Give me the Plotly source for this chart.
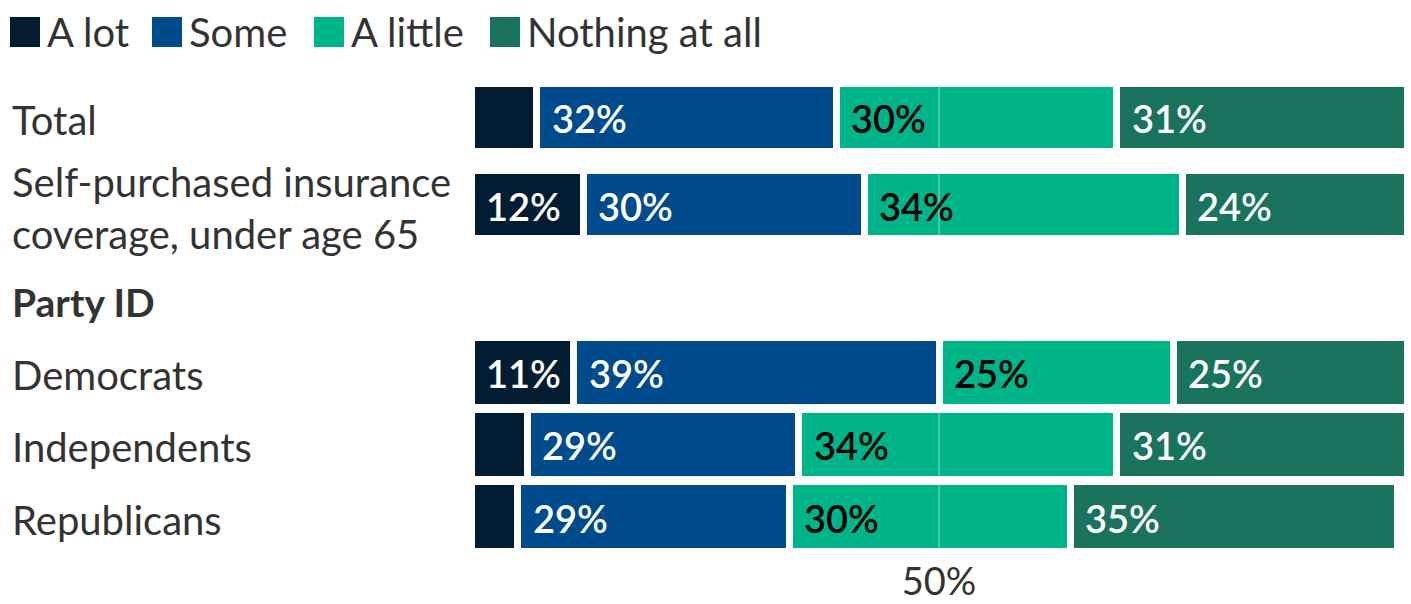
import plotly.graph_objects as go

# ---- data -------------------------------------------------------------
series_names = ["A lot", "Some", "A little", "Nothing at all"]
series_colors = ["#021d31", "#004b8c", "#00b48a", "#1a735d"]
label_colors = ["#ffffff", "#ffffff", "#000000", "#ffffff"]

overall_rows = ["Total", "Self-purchased insurance<br>coverage, under age 65"]
overall_a_lot = [7, 12]
overall_some = [32, 30]
overall_a_little = [30, 34]
overall_nothing = [31, 24]

party_header = "Party ID"
party_rows = ["Democrats", "Independents", "Republicans"]
party_a_lot = [11, 6, 5]
party_some = [39, 29, 29]
party_a_little = [25, 34, 30]
party_nothing = [25, 31, 35]

x_ticks = [50]
x_tick_labels = ["50%"]

# ---- layout constants (pixels) -----------------------------------------
W, H = 1411, 604
ML, MR = 471, 4
PLOT_W = W - ML - MR
FONT = "Lato"
TEXT_GRAY = "#333333"
GAP = 7  # white gap between segments


def px_x(px):
    return (px - ML) / PLOT_W


def px_y(py):
    return (H - py) / H


fig = go.Figure()

groups = [
    ("y", "x", overall_rows,
     [overall_a_lot, overall_some, overall_a_little, overall_nothing], 0.78),
    ("y2", "x2", party_rows,
     [party_a_lot, party_some, party_a_little, party_nothing], 0.97),
]

annotations = []
shapes = []
for yref, xref, rows, values, bar_w in groups:
    for name, color, tcolor, vals in zip(series_names, series_colors,
                                         label_colors, values):
        fig.add_trace(go.Bar(
            orientation="h", x=vals, y=rows, name=name,
            marker=dict(color=color, line=dict(color="white", width=GAP)),
            width=bar_w, xaxis=xref, yaxis=yref, showlegend=False,
            hoverinfo="x+y+name",
        ))
    # value labels, left-aligned inside each segment
    for i, row in enumerate(rows):
        base = 0
        for s, vals in enumerate(values):
            v = vals[i]
            if v >= 10:
                annotations.append(dict(
                    x=base, y=row, xref=xref, yref=yref,
                    text=f"{v}%", showarrow=False, xanchor="left",
                    xshift=13, yshift=-1,
                    font=dict(family=FONT, size=38, color=label_colors[s],
                              weight=600),
                ))
            base += v
    # row labels on the left
    for row in rows:
        annotations.append(dict(
            x=px_x(10), y=row, xref="paper", yref=yref, text=row,
            showarrow=False, xanchor="left", align="left",
            yshift=-3,
            font=dict(family=FONT, size=40, color=TEXT_GRAY),
        ))
    # reference line at each tick, drawn over the bars
    for t in x_ticks:
        shapes.append(dict(
            type="line", xref=xref, yref=f"{yref} domain",
            x0=t, x1=t, y0=0, y1=1, layer="above",
            line=dict(color="rgba(255,255,255,0.45)", width=1.2),
        ))

# group header
annotations.append(dict(
    x=px_x(10), y=px_y(302), xref="paper", yref="paper", text=party_header,
    showarrow=False, xanchor="left", yanchor="middle",
    font=dict(family=FONT, size=39, color=TEXT_GRAY, weight="bold"),
))

# legend drawn as swatches + text
legend_x = [10, 152, 314, 490]
for lx, name, color in zip(legend_x, series_names, series_colors):
    shapes.append(dict(
        type="rect", xref="paper", yref="paper",
        x0=px_x(lx), x1=px_x(lx + 30), y0=px_y(47), y1=px_y(17),
        fillcolor=color, line=dict(width=0),
    ))
    annotations.append(dict(
        x=px_x(lx + 35), y=px_y(32), xref="paper", yref="paper", text=name,
        showarrow=False, xanchor="left", yanchor="middle",
        font=dict(family=FONT, size=40, color=TEXT_GRAY),
    ))

axis_x = dict(range=[0, 100], tickvals=x_ticks, ticktext=x_tick_labels,
              showgrid=False, zeroline=False, showline=False,
              ticks="", fixedrange=True, automargin=False,
              tickfont=dict(family=FONT, size=38, color=TEXT_GRAY))
axis_y = dict(showticklabels=False, showgrid=False, zeroline=False,
              autorange="reversed", type="category", automargin=False,
              fixedrange=True)

fig.update_layout(
    width=W, height=H,
    margin=dict(l=ML, r=MR, t=0, b=0, autoexpand=False),
    paper_bgcolor="white", plot_bgcolor="white",
    barmode="stack",
    showlegend=False,
    xaxis=dict(axis_x, anchor="y", showticklabels=False),
    xaxis2=dict(axis_x, anchor="y2", ticklabelstandoff=3),
    yaxis=dict(axis_y, domain=[px_y(253.5), px_y(73.5)], anchor="x"),
    yaxis2=dict(axis_y, domain=[px_y(552.5), px_y(336.5)], anchor="x2"),
    annotations=annotations,
    shapes=shapes,
    font=dict(family=FONT, color=TEXT_GRAY),
)

fig.write_html("out.html")
